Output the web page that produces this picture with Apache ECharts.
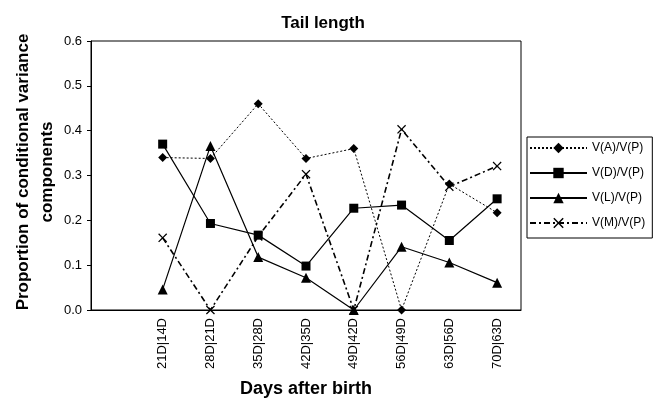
<!DOCTYPE html>
<html><head><meta charset="utf-8">
<script src="https://cdn.jsdelivr.net/npm/echarts@6/dist/echarts.min.js"></script>
<style>html,body{margin:0;padding:0;background:#fff}#c{width:653px;height:400px}</style>
</head><body><div id="c"></div>
<script>
const categories = ['', '21D|14D', '28D|21D', '35D|28D', '42D|35D', '49D|42D', '56D|49D', '63D|56D', '70D|63D'];
const vA = [null, 0.34, 0.338, 0.46, 0.338, 0.36, 0.0, 0.281, 0.217];
const vD = [null, 0.37, 0.193, 0.167, 0.098, 0.227, 0.234, 0.155, 0.248];
const vL = [null, 0.046, 0.366, 0.118, 0.072, 0.0, 0.141, 0.106, 0.061];
const vM = [null, 0.161, 0.0, 0.164, 0.303, 0.0, 0.403, 0.275, 0.321];
const yTicks = ['0.0','0.1','0.2','0.3','0.4','0.5','0.6'];
const seriesNames = ['V(A)/V(P)', 'V(D)/V(P)', 'V(L)/V(P)', 'V(M)/V(P)'];
const yAxisTitle = 'Proportion of conditional variance\ncomponents';

const FONT = 'Liberation Sans';
const crossPath = 'path://M0,1L1,0L5,4L9,0L10,1L6,5L10,9L9,10L5,6L1,10L0,9L4,5Z';
const chart = echarts.init(document.getElementById('c'), null, {renderer: 'canvas'});
function mk(name, data, symbol, size, lineType, width) {
  return {
    name, type: 'line', data, symbol, symbolSize: size, connectNulls: false,
    itemStyle: {color: '#000'},
    lineStyle: {color: '#000', width, type: lineType},
    emphasis: {disabled: true}, animation: false
  };
}
chart.setOption({
  backgroundColor: '#fff',
  textStyle: {fontFamily: FONT},
  title: {text: 'Tail length', left: 318, top: 10, textAlign: 'center',
    textStyle: {fontFamily: FONT, fontSize: 17, fontWeight: 'bold', color: '#000'}},
  grid: {left: 91, right: 132, top: 41, bottom: 90, show: true, borderColor: '#000', borderWidth: 1,
    backgroundColor: 'transparent', outerBoundsMode: 'none', containLabel: false},
  legend: {
    orient: 'vertical', left: 527, top: 137,
    backgroundColor: '#fff', borderColor: '#000', borderWidth: 1,
    padding: [4, 7, 8, 2], itemGap: 11, itemWidth: 57, itemHeight: 13,
    textStyle: {fontFamily: FONT, fontSize: 12, color: '#000', lineHeight: 14},
    data: seriesNames
  },
  graphic: [{
    type: 'text', x: 35, y: 172, rotation: Math.PI / 2, silent: true,
    style: {text: yAxisTitle, fill: '#000', font: 'bold 17px "Liberation Sans"',
      textAlign: 'center', textVerticalAlign: 'middle', lineHeight: 24}
  }],
  xAxis: {
    type: 'category', data: categories, boundaryGap: true,
    axisLine: {lineStyle: {color: '#000'}}, axisTick: {show: false},
    axisLabel: {rotate: 90, fontFamily: FONT, fontSize: 13, color: '#000', margin: 8, interval: 0},
    name: 'Days after birth', nameLocation: 'middle', nameGap: 70,
    nameTextStyle: {fontFamily: FONT, fontSize: 18, fontWeight: 'bold', color: '#000'}
  },
  yAxis: {
    type: 'value', min: 0, max: 0.6, interval: 0.1,
    axisLine: {show: true, lineStyle: {color: '#000'}}, axisTick: {show: true, length: 4, lineStyle: {color: '#000'}},
    splitLine: {show: false},
    axisLabel: {fontFamily: FONT, fontSize: 13, color: '#000', margin: 9,
      formatter: (v) => yTicks[Math.round(v * 10)]}
  },
  series: [
    mk(seriesNames[0], vA, 'diamond', 9, [2, 2], 1),
    mk(seriesNames[1], vD, 'rect', 9, 'solid', 1.2),
    mk(seriesNames[2], vL, 'triangle', 10, 'solid', 1.2),
    mk(seriesNames[3], vM, crossPath, 9, [6, 3, 2, 3], 1.6)
  ]
});
</script></body></html>
